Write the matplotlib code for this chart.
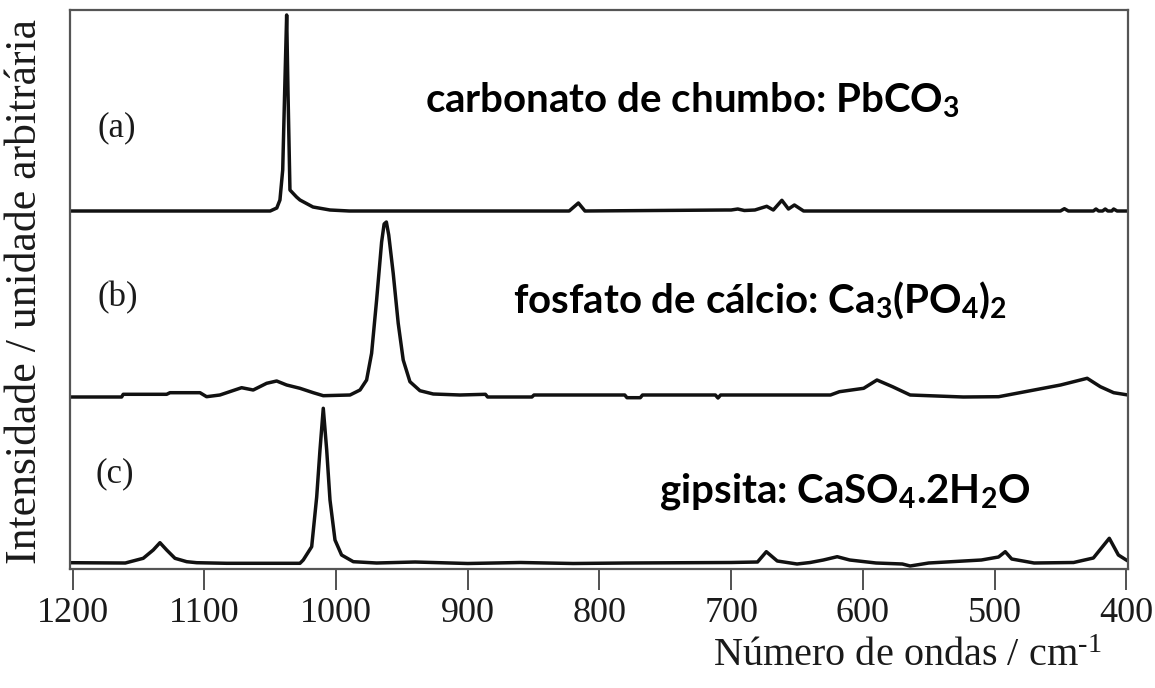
import matplotlib
matplotlib.use("Agg")
import matplotlib.pyplot as plt

plt.rcParams["font.family"] = ["Liberation Serif", "DejaVu Serif"]
plt.rcParams["mathtext.fontset"] = "custom"
plt.rcParams["mathtext.rm"] = "Liberation Serif"
plt.rcParams["mathtext.it"] = "Liberation Serif:italic"
plt.rcParams["mathtext.bf"] = "Lato:bold"

# Raman spectra, wavenumber (cm-1) vs intensity above each trace's own baseline
# (a) lead carbonate
wn_a = [1202, 1100, 1050, 1045, 1042.6, 1040.5, 1039, 1037.5, 1036.5, 1035, 1030, 1027.4,
        1017.5, 1004.6, 990, 823, 816, 811, 704, 700, 695, 690, 682, 673, 668, 661.5,
        656.5, 652, 645, 600, 450, 447, 444, 425, 423, 421, 418, 416, 414, 411, 409.6,
        407, 398.7]
int_a = [0, 0, 0, 3, 11, 41, 120, 196, 120, 21, 14, 11,
         4, 1, 0, 0, 8, 0, 1, 1, 2, 0.5, 1, 4.7, 1, 10.7,
         2, 6, 0, 0, 0, 2.3, 0, 0, 2, 0, 0, 2, 0, 0, 2,
         0, 0]

# (b) calcium phosphate
wn_b = [1202, 1162.8, 1161.6, 1128.6, 1126.1, 1103.3, 1098.3, 1088.2, 1071.7, 1062.9, 1052.7,
        1045.1, 1037.5, 1027.4, 1017.3, 1009.7, 989.4, 981.8, 976.8, 973, 969.2, 965.4, 963.5,
        961.8, 960, 956.6, 952.8, 949, 943.9, 936.3, 926.2, 905.9, 886.6, 884.9, 851.3, 849.7,
        780.8, 779.1, 769, 767.3, 712, 710, 708, 624.6, 617.8, 599.4, 589.3, 577.5, 564.1,
        523.8, 496.9, 476.8, 449.9, 429.7, 419.7, 409.6, 398.7]
int_b = [0, 0, 2.7, 2.7, 4.3, 4.3, 0.3, 2, 9.3, 7, 13.7,
         16, 12, 8.7, 4.3, 1.3, 2, 7, 17, 43.7, 97, 155, 173,
         175, 162, 123.7, 73.7, 37, 15.3, 6.3, 3, 2, 2.7, 0, 0, 2,
         2, -0.7, -0.7, 2, 2, -1, 2, 2, 5.3, 8.7, 17, 10.3, 2,
         0, 0.3, 5.3, 12, 18.7, 10.3, 4.3, 2]

# (c) gypsum
wn_c = [1202, 1160, 1146.4, 1138.8, 1133.7, 1128.6, 1122.3, 1113.4, 1105.8, 1083.1,
        1027.4, 1024.9, 1018.5, 1014.7, 1012.2, 1009.7, 1007.1, 1004.6, 1000.8, 995.8,
        986.9, 969.2, 940, 900, 860, 820, 780, 700, 680, 673.3, 665, 650, 640, 630, 619.5,
        610, 590, 570, 564.1, 550, 510, 497, 491.9, 487, 470, 440, 425, 412.9, 406, 400,
        398.7]
int_c = [0.3, 0, 4.7, 13, 20.3, 13, 4.7, 1.3, 0.3, -0.3,
         -0.3, 3, 16.3, 66, 113, 154.7, 113, 63, 23, 8,
         1.3, 0, 1, -0.5, 0.5, -0.5, 0, 0.5, 1, 11.3, 2, -1, 0.5, 3, 6.3,
         3, 0, -1, -3, 0, 3, 6, 11.3, 4, 0, 0.5, 5, 24.7, 8, 3,
         2]

offsets = {"a": 358, "b": 172, "c": 6}
labels = {"a": "(a)", "b": "(b)", "c": "(c)"}
names = {
    "a": "carbonato de chumbo: PbCO$_\\mathbf{3}$",
    "b": "fosfato de cálcio: Ca$_\\mathbf{3}$(PO$_\\mathbf{4}$)$_\\mathbf{2}$",
    "c": "gipsita: CaSO$_\\mathbf{4}$.2H$_\\mathbf{2}$O",
}
xticks = [1200, 1100, 1000, 900, 800, 700, 600, 500, 400]

fig = plt.figure(figsize=(11.55, 6.88), dpi=100)
ax = fig.add_axes([70 / 1155, 119 / 688, 1058 / 1155, 559 / 688])

for key, wn, inten in (("a", wn_a, int_a), ("b", wn_b, int_b), ("c", wn_c, int_c)):
    ax.plot(wn, [v + offsets[key] for v in inten], color="#111111", lw=2.5,
            solid_joinstyle="round")

ax.set_xlim(1202, 398.7)
ax.set_ylim(0, 559)
ax.set_xticks(xticks)
ax.set_yticks([])
ax.tick_params(axis="x", direction="out", length=15, width=1.2, pad=5,
               labelsize=26, colors="#333333", labelcolor="#1a1a1a")
for side in ax.spines.values():
    side.set_color("#555555")
    side.set_linewidth(1.6)

# panel tags and compound names, placed in figure pixels
tag_pos = {"a": (117, 128), "b": (118, 298), "c": (115, 474)}
name_pos = {"a": (692, 100), "b": (760, 300), "c": (845, 492)}
for key in ("a", "b", "c"):
    tx, ty = tag_pos[key]
    fig.text(tx / 1155, 1 - ty / 688, labels[key], fontsize=25, ha="center",
             va="center", color="#1a1a1a")
    nx, ny = name_pos[key]
    fig.text(nx / 1155, 1 - ny / 688, names[key], fontsize=29, fontfamily="Lato",
             fontweight="bold", ha="center", va="center", color="black")

fig.text(25 / 1155, 1 - 292 / 688, "Intensidade / unidade arbitrária", rotation=90,
         fontsize=31.5, ha="center", va="center", color="#1a1a1a")
fig.text(1102 / 1155, 1 - 656 / 688, "Número de ondas / cm$^{\\text{-}1}$",
         fontsize=29, ha="right", va="center", color="#1a1a1a")

fig.savefig("out.png", dpi=100)
